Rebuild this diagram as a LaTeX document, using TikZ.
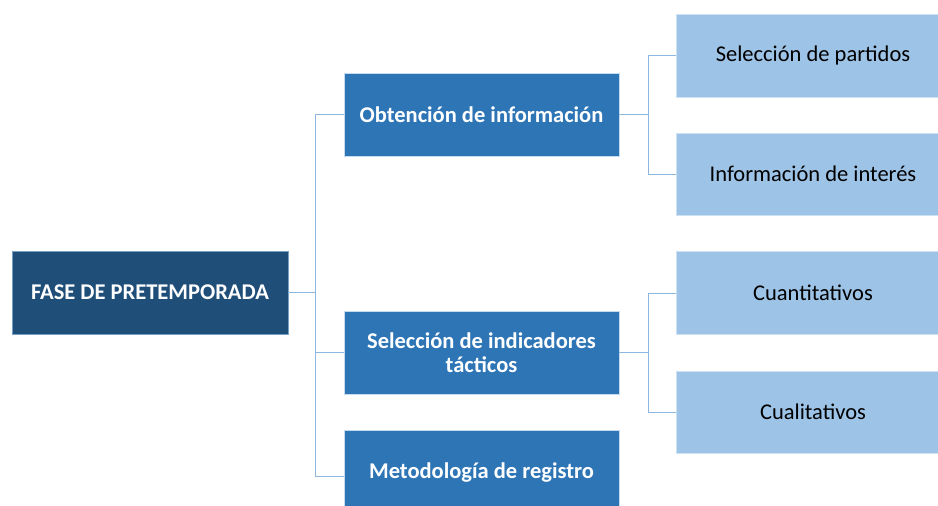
\documentclass[tikz,border=0pt]{standalone}
\usepackage{fontspec}
\setmainfont{Carlito}
\usepackage{xcolor}
\usetikzlibrary{positioning}
\definecolor{rootblue}{HTML}{1F4E79}
\definecolor{midblue}{HTML}{2E75B6}
\definecolor{paleblue}{HTML}{9DC3E6}

\tikzset{
    phasebox/.style={fill=rootblue, draw=paleblue!70!rootblue, line width=0.6pt, text=white,
        font=\fontsize{22.5}{24.5}\selectfont\bfseries, minimum width=276pt, minimum height=83pt, inner sep=0pt},
    stagebox/.style={fill=midblue, draw=paleblue!60!white, line width=0.6pt, text=white, align=center,
        font=\fontsize{22.5}{24.5}\selectfont\bfseries, minimum width=275pt, minimum height=83pt, inner sep=0pt},
    itembox/.style={fill=paleblue, draw=paleblue!50!white, line width=0.6pt, text=black,
        font=\fontsize{22.5}{24.5}\selectfont, minimum width=274pt, minimum height=83pt, inner sep=0pt},
    link/.style={draw=paleblue!85!midblue, line width=0.9pt}
}

\begin{document}
\begin{tikzpicture}[x=1pt, y=-1pt]
    \useasboundingbox (0, 0) rectangle (938, 506);
    % main phase
    \node[phasebox] (fase) at (150, 292.5) {FASE DE PRETEMPORADA};
    % stages
    \node[stagebox] (obtencion) at (481.5, 114.5) {Obtención de información};
    \node[stagebox] (indicadores) at (481.5, 352.5) {Selección de indicadores\\tácticos};
    \node[stagebox, minimum height=86pt] (metodologia) at (481.5, 473) {Metodología de registro};
    % items
    \node[itembox] (partidos) at (813, 55.5) {Selección de partidos};
    \node[itembox, minimum height=82pt] (interes) at (813, 174) {Información de interés};
    \node[itembox] (cuanti) at (813, 293) {Cuantitativos};
    \node[itembox, minimum height=82pt] (cuali) at (813, 412) {Cualitativos};
    % connectors
    \coordinate (busfase) at (315, 292.5);
    \coordinate (busobt) at (648, 114.5);
    \coordinate (busind) at (648, 352.5);
    \draw[link] (fase.east) -- (busfase);
    \draw[link]
        (busfase) |- (obtencion.west)
        (busfase) |- (indicadores.west)
        (busfase) |- ([yshift=-3pt]metodologia.west);
    \draw[link] (obtencion.east) -- (busobt);
    \draw[link]
        (busobt) |- (partidos.west)
        (busobt) |- (interes.west);
    \draw[link] (indicadores.east) -- (busind);
    \draw[link]
        (busind) |- (cuanti.west)
        (busind) |- (cuali.west);
\end{tikzpicture}
\end{document}
